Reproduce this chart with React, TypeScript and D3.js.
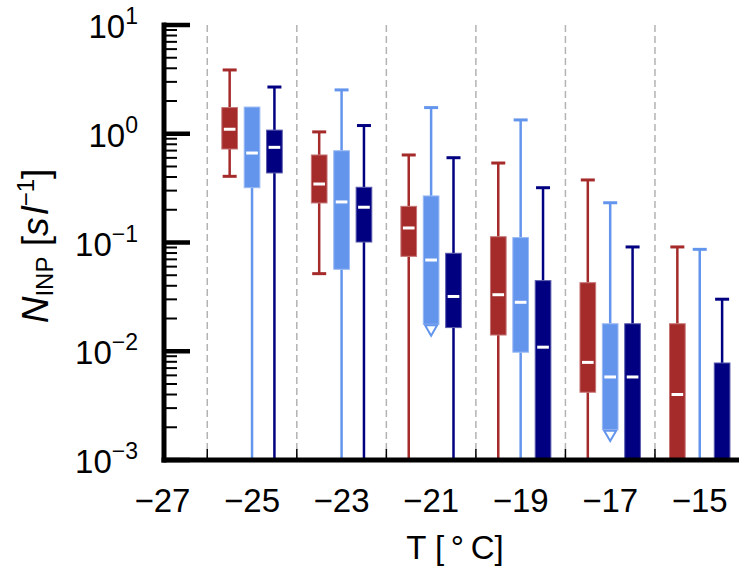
import { useEffect, useRef } from 'react';
import * as d3 from 'd3';

const WIDTH = 739;
const HEIGHT = 566;
const FONT = 'Liberation Sans, Arial, Helvetica, sans-serif';

// temperature bins (group centres), °C
const temps = [-25, -23, -21, -19, -17, -15];
const xTickLabels = [-27, -25, -23, -21, -19, -17, -15];
const gridTemps = [-26, -24, -22, -20, -18, -16];
const yExponents = [-3, -2, -1, 0, 1];

// red series (left box of each bin); null = below 10^-3
const redHigh = [3.86, 1.04, 0.638, 0.538, 0.376, 0.091];
const redQ3 = [1.74, 0.638, 0.215, 0.113, 0.0427, 0.0179];
const redMedian = [1.1, 0.345, 0.136, 0.0331, 0.0079, 0.004];
const redQ1 = [0.724, 0.231, 0.0746, 0.0141, 0.0042, null];
const redLow = [0.406, 0.0517, null, null, null, null];
const redOpenEnd = [false, false, false, false, false, false];

// light blue series (middle box)
const lightBlueHigh = [1.76, 2.53, 1.74, 1.34, 0.232, 0.0865];
const lightBlueQ3 = [1.76, 0.698, 0.268, 0.111, 0.0179, null];
const lightBlueMedian = [0.665, 0.236, 0.069, 0.0282, 0.0058, null];
const lightBlueQ1 = [0.319, 0.0567, 0.0177, 0.0098, 0.0019, null];
const lightBlueLow = [null, null, null, null, null, null];
const lightBlueOpenEnd = [false, false, true, false, true, false];

// navy series (right box)
const navyHigh = [2.69, 1.19, 0.602, 0.319, 0.091, 0.0301];
const navyQ3 = [1.08, 0.322, 0.0796, 0.0446, 0.0179, 0.0078];
const navyMedian = [0.75, 0.211, 0.0319, 0.0109, 0.0058, null];
const navyQ1 = [0.436, 0.101, 0.0165, null, null, null];
const navyLow = [null, null, null, null, null, null];
const navyOpenEnd = [false, false, false, false, false, false];

const series = [
  { color: '#a52a2a', offset: -0.5, high: redHigh, q3: redQ3, median: redMedian, q1: redQ1, low: redLow, openEnd: redOpenEnd },
  { color: '#6495ed', offset: 0, high: lightBlueHigh, q3: lightBlueQ3, median: lightBlueMedian, q1: lightBlueQ1, low: lightBlueLow, openEnd: lightBlueOpenEnd },
  { color: '#000080', offset: 0.5, high: navyHigh, q3: navyQ3, median: navyMedian, q1: navyQ1, low: navyLow, openEnd: navyOpenEnd },
];

function BoxChart() {
  const ref = useRef<SVGSVGElement>(null);

  const drawChart = () => {
    const svg = d3.select(ref.current);
    svg.selectAll('*').remove();

    const x = d3.scaleLinear().domain([-27, -14]).range([162.5, 744.5]);
    const y = d3.scaleLog().domain([1e-3, 10]).range([460, 25]).clamp(true);
    const yv = (v: number | null) => (v == null ? y(1e-3) : y(v));
    const bottom = y(1e-3);

    // dashed separators
    svg.append('g')
      .selectAll('line')
      .data(gridTemps)
      .join('line')
      .attr('x1', d => x(d))
      .attr('x2', d => x(d))
      .attr('y1', y(10))
      .attr('y2', bottom)
      .attr('stroke', '#b3b3b3')
      .attr('stroke-width', 1.5)
      .attr('stroke-dasharray', '7,4');

    // small x ticks
    svg.append('g')
      .selectAll('line')
      .data(gridTemps)
      .join('line')
      .attr('x1', d => x(d))
      .attr('x2', d => x(d))
      .attr('y1', bottom)
      .attr('y2', bottom - 11)
      .attr('stroke', '#000')
      .attr('stroke-width', 1.5);

    const boxHalf = (x(0.175) - x(0)) ;
    const capHalf = 7;

    series.forEach(s => {
      const g = svg.append('g');
      const edge = d3.interpolateRgb(s.color, '#ffffff')(0.35);
      temps.forEach((t, i) => {
        const cx = x(t + s.offset);
        const q3 = s.q3[i];
        const q1 = s.q1[i];
        // upper whisker
        g.append('line')
          .attr('x1', cx).attr('x2', cx)
          .attr('y1', yv(s.high[i])).attr('y2', yv(q3))
          .attr('stroke', s.color).attr('stroke-width', 2.5);
        if (q3 == null || s.high[i] > q3) {
          g.append('line')
            .attr('x1', cx - capHalf).attr('x2', cx + capHalf)
            .attr('y1', yv(s.high[i])).attr('y2', yv(s.high[i]))
            .attr('stroke', s.color).attr('stroke-width', 3);
        }
        // lower whisker
        if (!s.openEnd[i] && q3 != null) {
          g.append('line')
            .attr('x1', cx).attr('x2', cx)
            .attr('y1', yv(q1)).attr('y2', yv(s.low[i]))
            .attr('stroke', s.color).attr('stroke-width', 2.5);
          if (s.low[i] != null) {
            g.append('line')
              .attr('x1', cx - capHalf).attr('x2', cx + capHalf)
              .attr('y1', yv(s.low[i])).attr('y2', yv(s.low[i]))
              .attr('stroke', s.color).attr('stroke-width', 3);
          }
        }
        if (q3 == null) return;
        // box
        g.append('rect')
          .attr('x', cx - boxHalf)
          .attr('width', boxHalf * 2)
          .attr('y', yv(q3))
          .attr('height', yv(q1) - yv(q3))
          .attr('fill', s.color)
          .attr('stroke', edge)
          .attr('stroke-width', 1);
        if (s.median[i] != null) {
          g.append('line')
            .attr('x1', cx - boxHalf + 2).attr('x2', cx + boxHalf - 2)
            .attr('y1', yv(s.median[i])).attr('y2', yv(s.median[i]))
            .attr('stroke', '#fff').attr('stroke-width', 3);
        }
        if (s.openEnd[i]) {
          const side = 12;
          const h = side * Math.sqrt(3) / 2;
          g.append('path')
            .attr('d', d3.symbol(d3.symbolTriangle, side * side * Math.sqrt(3) / 4)())
            .attr('transform', `translate(${cx},${yv(q1) + h / 3 + 1}) rotate(180)`)
            .attr('fill', '#fff')
            .attr('stroke', s.color)
            .attr('stroke-width', 2);
        }
      });
    });

    // axes
    const axisX = x(-27) + 1.5;
    svg.append('line')
      .attr('x1', axisX).attr('x2', axisX)
      .attr('y1', y(10) - 2.5).attr('y2', bottom + 2.5)
      .attr('stroke', '#000').attr('stroke-width', 5);
    svg.append('line')
      .attr('x1', axisX - 2.5).attr('x2', WIDTH)
      .attr('y1', bottom).attr('y2', bottom)
      .attr('stroke', '#000').attr('stroke-width', 5);

    const minorTicks: number[] = [];
    yExponents.slice(0, -1).forEach(e => {
      for (let m = 2; m <= 9; m++) minorTicks.push(m * Math.pow(10, e));
    });
    svg.append('g')
      .selectAll('line')
      .data(minorTicks)
      .join('line')
      .attr('x1', axisX).attr('x2', axisX + 13)
      .attr('y1', d => y(d)).attr('y2', d => y(d))
      .attr('stroke', '#000').attr('stroke-width', 2);
    svg.append('g')
      .selectAll('line')
      .data(yExponents)
      .join('line')
      .attr('x1', axisX).attr('x2', axisX + 26)
      .attr('y1', d => y(Math.pow(10, d))).attr('y2', d => y(Math.pow(10, d)))
      .attr('stroke', '#000').attr('stroke-width', 4.5);

    // y tick labels
    const yl = svg.append('g')
      .attr('font-family', FONT)
      .selectAll('text')
      .data(yExponents)
      .join('text')
      .attr('x', 138)
      .attr('y', d => y(Math.pow(10, d)) + 13)
      .attr('text-anchor', 'end')
      .attr('font-size', 33);
    yl.append('tspan').text('10');
    yl.append('tspan')
      .attr('dy', -14)
      .attr('font-size', 23)
      .text(d => (d < 0 ? `\u2212${-d}` : `${d}`));

    // x tick labels
    svg.append('g')
      .attr('font-family', FONT)
      .selectAll('text')
      .data(xTickLabels)
      .join('text')
      .attr('x', d => x(d))
      .attr('y', 512)
      .attr('text-anchor', 'middle')
      .attr('font-size', 33)
      .text(d => `\u2212${Math.abs(d)}`);

    // axis titles
    svg.append('text')
      .attr('x', 455)
      .attr('y', 559)
      .attr('text-anchor', 'middle')
      .attr('font-family', FONT)
      .attr('font-size', 33)
      .text('T [\u2009\u00b0\u2009C]');

    const yt = svg.append('text')
      .attr('transform', 'translate(48,246) rotate(-90)')
      .attr('text-anchor', 'middle')
      .attr('font-family', FONT)
      .attr('font-size', 37);
    yt.append('tspan').attr('font-style', 'italic').text('N');
    yt.append('tspan').attr('font-size', 24).attr('dy', 5).text('INP');
    yt.append('tspan').attr('dy', -5).text(' [');
    yt.append('tspan').attr('font-style', 'italic').text('s');
    yt.append('tspan').attr('font-style', 'italic').attr('dx', 3).text('l');
    yt.append('tspan').attr('font-size', 24).attr('dy', -14).text('\u22121');
    yt.append('tspan').attr('dy', 14).text(']');
  };

  useEffect(() => {
    drawChart();
  }, []);

  return (
    <svg
      ref={ref}
      width={WIDTH}
      height={HEIGHT}
      style={{ position: 'absolute', left: 0, top: 0, background: '#fff' }}
    />
  );
}

export default function App() {
  return <BoxChart />;
}
